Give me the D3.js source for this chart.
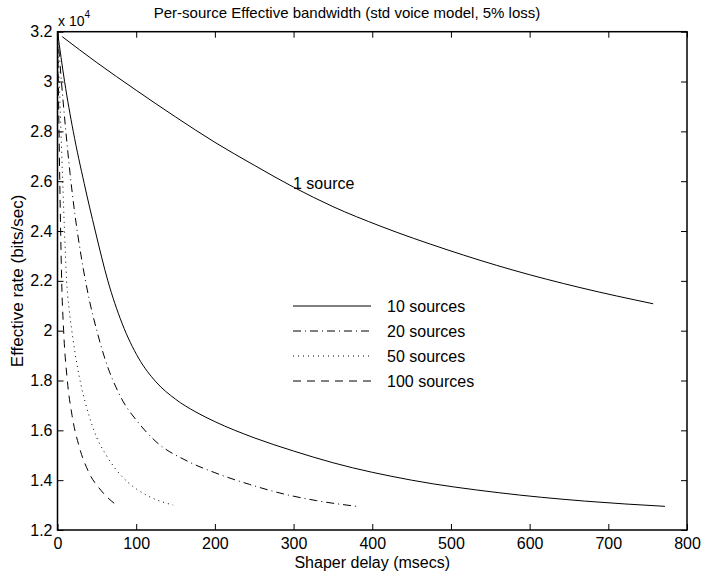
<!DOCTYPE html>
<html>
<head>
<meta charset="utf-8">
<script src="https://cdn.jsdelivr.net/npm/d3@7/dist/d3.min.js"></script>
<style>
  body { margin: 0; background: #fff; }
  text { font-family: Arial, "Liberation Sans", Helvetica, sans-serif; fill: #000; }
</style>
</head>
<body>
<svg id="chart" width="702" height="577"></svg>
<script>
// delay (msecs), effective rate (bits/sec)
const oneSource = [[6, 31800], [50, 30760], [100, 29650], [150, 28580], [200, 27560], [250, 26640],
  [300, 25760], [350, 24980], [410, 24200], [495, 23250], [579, 22430], [664, 21730], [757, 21080]];
const tenSources = [[0, 32000], [9, 30000], [20, 28000], [34, 25900], [48, 24000], [64, 22000],
  [82, 20300], [103, 18900], [125, 17950], [150, 17250], [175, 16750], [200, 16350], [250, 15700],
  [300, 15170], [350, 14700], [450, 14000], [560, 13500], [670, 13160], [772, 12950]];
const twentySources = [[0, 32000], [5, 30000], [10, 28200], [16, 26300], [22, 24700], [30, 23000],
  [40, 21300], [50, 20000], [60, 18900], [81, 17300], [103, 16300], [124, 15580], [166, 14750],
  [200, 14300], [244, 13830], [287, 13450], [329, 13180], [380, 12950]];
const fiftySources = [[0, 32000], [2.2, 30000], [4.4, 28000], [6.6, 26000], [8.9, 24000], [11.6, 22000],
  [13, 21400], [15, 20800], [20, 19600], [25, 18600], [30, 17800], [40, 16600], [50, 15700],
  [62, 15000], [75, 14400], [90, 13900], [113, 13400], [147, 13000]];
const hundredSources = [[0, 32000], [1, 30000], [1.95, 28000], [2.9, 26000], [4, 24000], [5.3, 22000],
  [7.8, 20000], [12.5, 18000], [18.5, 16600], [28, 15300], [40, 14300], [55, 13600], [77, 12950]];

const xTicks = [0, 100, 200, 300, 400, 500, 600, 700, 800];
const yTicks = [12000, 14000, 16000, 18000, 20000, 22000, 24000, 26000, 28000, 30000, 32000];
const legendNames = ['10 sources', '20 sources', '50 sources', '100 sources'];
const legendDash = ['none', '8,4,1,4', '1,4', '8,6'];

const svg = d3.select('#chart');
const margin = { top: 31.7, left: 57.5 };
const width = 629.5;
const height = 498.3;

const x = d3.scaleLinear().domain([0, 800]).range([0, width]);
const y = d3.scaleLinear().domain([12000, 32000]).range([height, 0]);

const g = svg.append('g').attr('transform', `translate(${margin.left},${margin.top})`);

const fmtY = d => d3.format('.1f')(d / 1e4).replace(/\.0$/, '');

// axes with inward ticks on all four sides
const axBottom = g.append('g').attr('transform', `translate(0,${height})`)
  .call(d3.axisBottom(x).tickValues(xTicks).tickSizeInner(-6).tickSizeOuter(0).tickPadding(5));
const axTop = g.append('g')
  .call(d3.axisTop(x).tickValues(xTicks).tickSizeInner(-6).tickSizeOuter(0).tickFormat(''));
const axLeft = g.append('g')
  .call(d3.axisLeft(y).tickValues(yTicks).tickSizeInner(-6).tickSizeOuter(0).tickPadding(5).tickFormat(fmtY));
const axRight = g.append('g').attr('transform', `translate(${width},0)`)
  .call(d3.axisRight(y).tickValues(yTicks).tickSizeInner(-6).tickSizeOuter(0).tickFormat(''));

[axBottom, axTop, axLeft, axRight].forEach(a => {
  a.select('.domain').remove();
  a.selectAll('.tick line').attr('stroke', '#000').attr('stroke-width', 1);
  a.selectAll('text').style('font-size', '16px').attr('fill', '#000');
});
axBottom.selectAll('text').attr('dy', '0.9em');

g.append('rect')
  .attr('width', width).attr('height', height)
  .attr('fill', 'none').attr('stroke', '#000').attr('stroke-width', 1.5);

// curves
const line = d3.line()
  .x(d => x(d[0]))
  .y(d => y(d[1]))
  .curve(d3.curveMonotoneX);

const series = [
  { data: oneSource, dash: 'none' },
  { data: tenSources, dash: legendDash[0] },
  { data: twentySources, dash: legendDash[1] },
  { data: fiftySources, dash: legendDash[2] },
  { data: hundredSources, dash: legendDash[3] }
];

g.selectAll('path.curve')
  .data(series)
  .enter().append('path')
  .attr('class', 'curve')
  .attr('d', d => line(d.data))
  .attr('fill', 'none')
  .attr('stroke', '#000')
  .attr('stroke-width', 1)
  .attr('stroke-dasharray', d => d.dash);

// legend
const legend = svg.append('g');
const rowY = [306, 331, 356, 381];
legendNames.forEach((name, i) => {
  legend.append('line')
    .attr('x1', 293).attr('x2', 371)
    .attr('y1', rowY[i]).attr('y2', rowY[i])
    .attr('stroke', '#000').attr('stroke-width', 1)
    .attr('stroke-dasharray', legendDash[i]);
  legend.append('text')
    .attr('x', 387).attr('y', rowY[i]).attr('dy', '0.35em')
    .style('font-size', '16px')
    .text(name);
});

svg.append('text')
  .attr('x', 293).attr('y', 189)
  .style('font-size', '16px')
  .text('1 source');

// exponent label
const expo = svg.append('text').attr('x', 58).attr('y', 26).style('font-size', '14px');
expo.append('tspan').text('x 10');
expo.append('tspan').attr('dy', -8).style('font-size', '10px').text('4');

// title and axis labels
svg.append('text')
  .attr('x', 347).attr('y', 18)
  .attr('text-anchor', 'middle')
  .style('font-size', '15px')
  .text('Per-source Effective bandwidth (std voice model, 5% loss)');

svg.append('text')
  .attr('x', margin.left + width / 2).attr('y', 568)
  .attr('text-anchor', 'middle')
  .style('font-size', '16px')
  .text('Shaper delay (msecs)');

svg.append('text')
  .attr('transform', `translate(23,${margin.top + height / 2}) rotate(-90)`)
  .attr('text-anchor', 'middle')
  .style('font-size', '17px')
  .text('Effective rate (bits/sec)');
</script>
</body>
</html>
